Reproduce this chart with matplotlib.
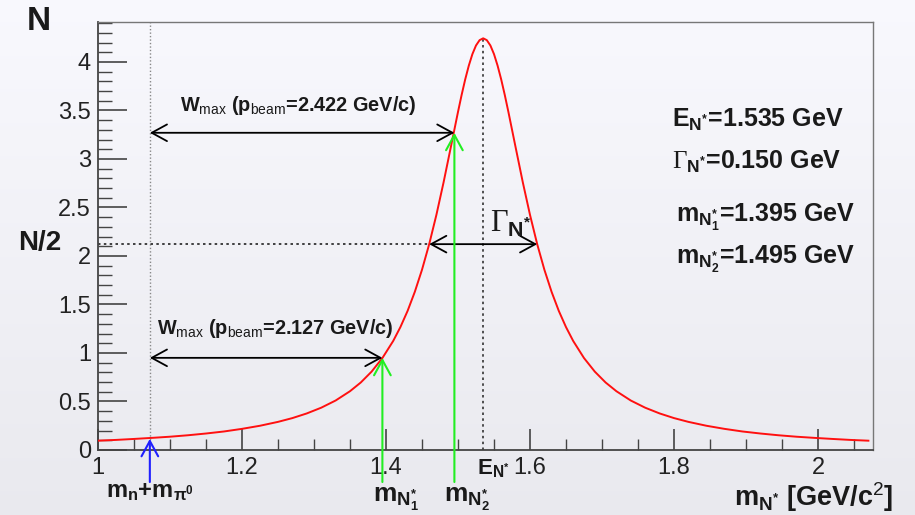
import numpy as np
import matplotlib
matplotlib.use("Agg")
import matplotlib.pyplot as plt

plt.rcParams['font.family'] = ['Liberation Sans', 'DejaVu Sans']
plt.rcParams['mathtext.fontset'] = 'custom'
plt.rcParams['mathtext.rm'] = 'Liberation Sans'
plt.rcParams['mathtext.bf'] = 'Liberation Sans:bold'
plt.rcParams['mathtext.it'] = 'Liberation Sans:italic'
plt.rcParams['mathtext.sf'] = 'Liberation Serif'

# Breit-Wigner curve
curve_x = [1.000, 1.025, 1.050, 1.075, 1.100, 1.125, 1.150, 1.175, 1.200, 1.225,
           1.250, 1.270, 1.290, 1.310, 1.330, 1.350, 1.365, 1.380, 1.395, 1.410,
           1.420, 1.430, 1.440, 1.450, 1.460, 1.470, 1.480, 1.490, 1.500, 1.505,
           1.510, 1.515, 1.520, 1.525, 1.530, 1.535, 1.540, 1.545, 1.550, 1.555,
           1.560, 1.565, 1.570, 1.580, 1.590, 1.600, 1.610, 1.620, 1.630, 1.640,
           1.650, 1.660, 1.675, 1.690, 1.705, 1.720, 1.740, 1.760, 1.780, 1.800,
           1.820, 1.845, 1.870, 1.895, 1.920, 1.945, 1.970, 1.995, 2.020, 2.045,
           2.070]
curve_y = [0.096, 0.104, 0.114, 0.125, 0.137, 0.152, 0.170, 0.191, 0.218, 0.250,
           0.290, 0.329, 0.377, 0.436, 0.510, 0.606, 0.696, 0.808, 0.948, 1.124,
           1.267, 1.434, 1.630, 1.858, 2.122, 2.424, 2.760, 3.121, 3.485, 3.659,
           3.820, 3.962, 4.081, 4.170, 4.225, 4.244, 4.225, 4.170, 4.081, 3.962,
           3.820, 3.659, 3.485, 3.121, 2.760, 2.424, 2.122, 1.858, 1.630, 1.434,
           1.267, 1.124, 0.948, 0.808, 0.696, 0.606, 0.510, 0.436, 0.377, 0.329,
           0.290, 0.250, 0.218, 0.191, 0.170, 0.152, 0.137, 0.125, 0.114, 0.104,
           0.096]

e_peak, y_peak = 1.535, 4.244
m_threshold = 1.072
m_n1, m_n2 = 1.395, 1.495
y_threshold, y_n1, y_n2 = 0.115, 0.95, 3.27
half_max = 2.122
gamma_lo, gamma_hi = 1.460, 1.610
x_ticks = [1.0, 1.2, 1.4, 1.6, 1.8, 2.0]
x_ticklabels = ['1', '1.2', '1.4', '1.6', '1.8', '2']
y_ticks = [0, 0.5, 1, 1.5, 2, 2.5, 3, 3.5, 4]
y_ticklabels = ['0', '0.5', '1', '1.5', '2', '2.5', '3', '3.5', '4']

fig = plt.figure(figsize=(9.15, 5.15), dpi=100)

# light gradient background
bg = fig.add_axes([0, 0, 1, 1], zorder=-10)
grad = np.linspace(0.975, 0.915, 256).reshape(-1, 1)
rgb = np.dstack([grad, grad, grad + 0.02])
bg.imshow(np.clip(rgb, 0, 1), aspect='auto', extent=[0, 1, 0, 1])
bg.axis('off')

ax = fig.add_axes([98 / 915, 65 / 515, 775 / 915, 428 / 515])
ax.patch.set_alpha(0)
ax.set_xlim(1.0, 2.0764)
ax.set_ylim(0, 4.412)

ax.plot(curve_x, curve_y, color='#ff1010', lw=1.4, zorder=3)

# guide lines
ax.axvline(m_threshold, color='#888888', lw=1, ls=(0, (1, 1.5)), zorder=1)
ax.plot([e_peak, e_peak], [0, y_peak], color='#333333', lw=1.2, ls=(0, (1.5, 2)), zorder=1)
ax.plot([1.0, gamma_lo], [half_max, half_max], color='#222222', lw=1.2, ls=(0, (1.5, 2)), zorder=1)

arrow_k = dict(color='black', lw=1.3, shrinkA=0, shrinkB=0, mutation_scale=20)
ax.annotate('', xy=(gamma_lo, half_max), xytext=(gamma_hi, half_max),
            arrowprops=dict(arrowstyle='<->,head_length=0.55,head_width=0.3', **arrow_k))
ax.annotate('', xy=(m_threshold, y_n2), xytext=(m_n2, y_n2),
            arrowprops=dict(arrowstyle='<->,head_length=0.55,head_width=0.3', **arrow_k))
ax.annotate('', xy=(m_threshold, y_n1), xytext=(m_n1, y_n1),
            arrowprops=dict(arrowstyle='<->,head_length=0.55,head_width=0.3', **arrow_k))

up_k = dict(lw=1.5, shrinkA=0, shrinkB=0, mutation_scale=20)
ax.annotate('', xy=(m_threshold, y_threshold), xytext=(m_threshold, -0.33), annotation_clip=False,
            arrowprops=dict(arrowstyle='->,head_length=0.55,head_width=0.3', color='#2020ff', **up_k))
ax.annotate('', xy=(m_n1, y_n1), xytext=(m_n1, -0.33), annotation_clip=False,
            arrowprops=dict(arrowstyle='->,head_length=0.55,head_width=0.3', color='#22ee22', **up_k))
ax.annotate('', xy=(m_n2, y_n2), xytext=(m_n2, -0.33), annotation_clip=False,
            arrowprops=dict(arrowstyle='->,head_length=0.55,head_width=0.3', color='#22ee22', **up_k))

# axes styling (ROOT-like)
ax.set_xticks(x_ticks)
ax.set_xticklabels(x_ticklabels)
ax.set_yticks(y_ticks)
ax.set_yticklabels(y_ticklabels)
ax.set_xticks(np.arange(1.0, 2.08, 0.05), minor=True)
ax.set_yticks(np.arange(0, 4.41, 0.1), minor=True)
ax.tick_params(axis='both', which='both', direction='in', color='#444444', labelsize=17,
               labelcolor='#222222')
ax.tick_params(axis='x', which='major', length=15, width=1.2, pad=5)
ax.tick_params(axis='x', which='minor', length=8, width=1)
ax.tick_params(axis='y', which='major', length=21, width=1.2, pad=5)
ax.tick_params(axis='y', which='minor', length=10, width=1)
for s in ['left', 'bottom']:
    ax.spines[s].set_color('#444444')
    ax.spines[s].set_linewidth(1.3)
for s in ['top', 'right']:
    ax.spines[s].set_color('#777777')
    ax.spines[s].set_linewidth(1.0)

# texts
tc = '#1a1a1a'
fig.text(39 / 915, 1 - 22 / 515, 'N', fontsize=24, fontweight='bold', color=tc, ha='center', va='center')
fig.text(40 / 915, 1 - 243 / 515, 'N/2', fontsize=20, fontweight='bold', color=tc, ha='center', va='center')

ax.text(1.1136, 3.55, r'W$_{\mathrm{max}}$ (p$_{\mathrm{beam}}$=2.422 GeV/c)', fontsize=14.3,
        fontweight='bold', color=tc, va='center')
ax.text(1.082, 1.25, r'W$_{\mathrm{max}}$ (p$_{\mathrm{beam}}$=2.127 GeV/c)', fontsize=14.3,
        fontweight='bold', color=tc, va='center')
ax.text(1 + (490 - 98) / 720, 2.33, r'$\mathsf{\Gamma}_{\mathbf{N^{*}}}$', fontsize=22, color=tc,
        va='center')

rx = 1 + (672 - 98) / 720
ax.text(rx, 3.40, r'E$_{\mathbf{N^{*}}}$=1.535 GeV', fontsize=18, fontweight='bold', color=tc, va='center')
ax.text(rx, 2.97, r'$\mathsf{\Gamma}_{\mathbf{N^{*}}}$=0.150 GeV', fontsize=18, fontweight='bold',
        color=tc, va='center')
ax.text(rx + 0.006, 2.40, r'm$_{\mathbf{N^{*}_{1}}}$=1.395 GeV', fontsize=18, fontweight='bold',
        color=tc, va='center')
ax.text(rx + 0.006, 1.96, r'm$_{\mathbf{N^{*}_{2}}}$=1.495 GeV', fontsize=18, fontweight='bold',
        color=tc, va='center')

ax.text(1.526, -0.19, r'E$_{\mathbf{N^{*}}}$', fontsize=16, fontweight='bold', color=tc,
        ha='left', va='center')
ax.text(m_threshold, -0.43, r'm$_{\mathbf{n}}$+m$_{\mathbf{\pi^{0}}}$', fontsize=17, fontweight='bold',
        color=tc, ha='center', va='center')
ax.text(1.382, -0.51, r'm$_{\mathbf{N^{*}_{1}}}$', fontsize=19, fontweight='bold', color=tc,
        ha='left', va='center')
ax.text(1.4806, -0.51, r'm$_{\mathbf{N^{*}_{2}}}$', fontsize=19, fontweight='bold', color=tc,
        ha='left', va='center')
fig.text(893 / 915, 1 - 497 / 515, r'm$_{\mathbf{N^{*}}}$ [GeV/c$^{2}$]', fontsize=19.5,
         fontweight='bold', color=tc, ha='right', va='center')

fig.savefig('out.png', dpi=100)
